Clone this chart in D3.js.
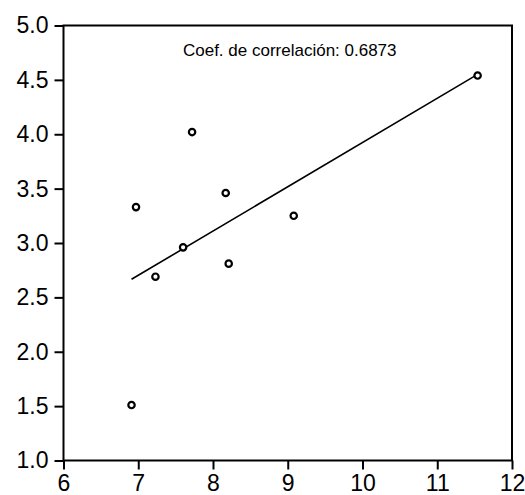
<!DOCTYPE html>
<html>
<head>
<meta charset="utf-8">
<script src="https://cdn.jsdelivr.net/npm/d3@7"></script>
<style>
  html, body { margin: 0; padding: 0; background: #fff; }
  svg { display: block; }
</style>
</head>
<body>
<svg id="chart" width="525" height="495"></svg>
<script>
// Observed pairs (x, y)
const xValues = [6.91, 6.97, 7.23, 7.60, 7.72, 8.17, 8.21, 9.08, 11.54];
const yValues = [1.51, 3.33, 2.69, 2.96, 4.02, 3.46, 2.81, 3.25, 4.54];

// Axis ticks
const xTicks = [6, 7, 8, 9, 10, 11, 12];
const yTicks = [1.0, 1.5, 2.0, 2.5, 3.0, 3.5, 4.0, 4.5, 5.0];

const corrLabel = "Coef. de correlación: 0.6873";

const svg = d3.select("#chart");
const plotLeft = 63.5, plotRight = 512, plotTop = 25.5, plotBottom = 460.5;

const x = d3.scaleLinear().domain([6, 12]).range([plotLeft, plotRight]);
const y = d3.scaleLinear().domain([1, 5]).range([plotBottom, plotTop]);

const fontFamily = "'Liberation Sans', Arial, sans-serif";

// Frame
svg.append("rect")
  .attr("x", plotLeft).attr("y", plotTop)
  .attr("width", plotRight - plotLeft).attr("height", plotBottom - plotTop)
  .attr("fill", "none").attr("stroke", "#000").attr("stroke-width", 2);

// Axes
const xAxis = svg.append("g")
  .attr("transform", `translate(0,${plotBottom})`)
  .call(d3.axisBottom(x).tickValues(xTicks).tickSize(9).tickPadding(5)
    .tickFormat(d3.format("d")));
const yAxis = svg.append("g")
  .attr("transform", `translate(${plotLeft},0)`)
  .call(d3.axisLeft(y).tickValues(yTicks).tickSize(9).tickPadding(6)
    .tickFormat(d3.format(".1f")));

[xAxis, yAxis].forEach(g => {
  g.select(".domain").remove();
  g.selectAll(".tick line").attr("stroke", "#000").attr("stroke-width", 2);
  g.selectAll(".tick text")
    .attr("fill", "#000")
    .style("font-family", fontFamily)
    .style("font-size", "23px");
});

// Least-squares fit through the points
const mx = d3.mean(xValues), my = d3.mean(yValues);
const sxy = d3.sum(xValues, (v, i) => (v - mx) * (yValues[i] - my));
const sxx = d3.sum(xValues, v => (v - mx) * (v - mx));
const slope = sxy / sxx, intercept = my - slope * mx;
const [xMin, xMax] = d3.extent(xValues);

svg.append("line")
  .attr("x1", x(xMin)).attr("y1", y(intercept + slope * xMin))
  .attr("x2", x(xMax)).attr("y2", y(intercept + slope * xMax))
  .attr("stroke", "#000").attr("stroke-width", 1.6);

// Points
svg.append("g").selectAll("circle")
  .data(xValues.map((v, i) => [v, yValues[i]]))
  .join("circle")
  .attr("cx", d => x(d[0])).attr("cy", d => y(d[1]))
  .attr("r", 3.2)
  .attr("fill", "#fff").attr("stroke", "#000").attr("stroke-width", 2.2);

// Correlation note
svg.append("text")
  .attr("x", (plotLeft + plotRight) / 2 + 2).attr("y", 56)
  .attr("text-anchor", "middle")
  .style("font-family", fontFamily)
  .style("font-size", "17px")
  .attr("fill", "#000")
  .text(corrLabel);
</script>
</body>
</html>
